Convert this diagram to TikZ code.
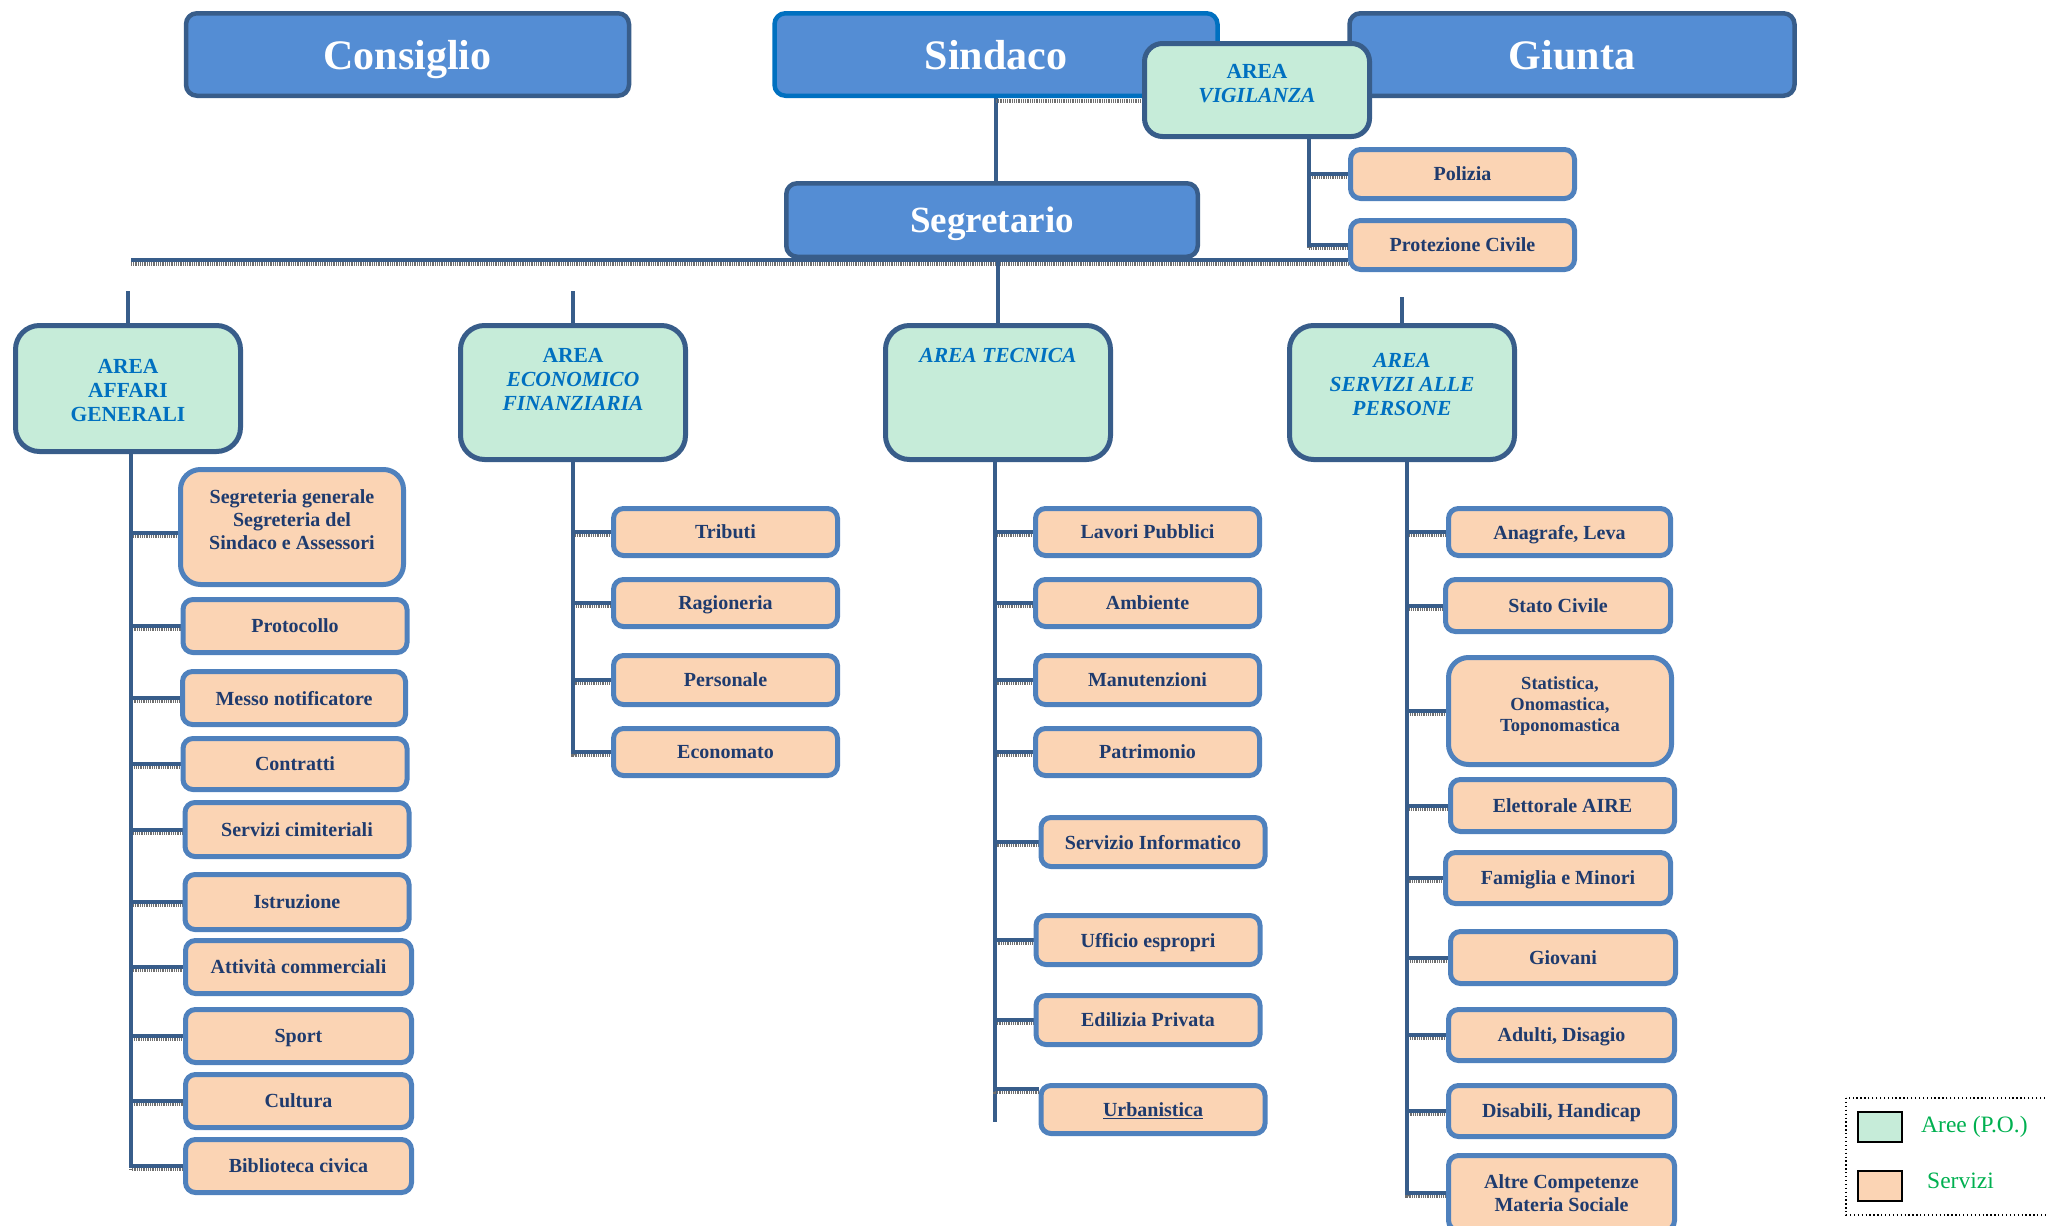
\documentclass[tikz,border=0pt]{standalone}
\usepackage{fontspec}
\setmainfont{Liberation Serif}
\usetikzlibrary{backgrounds}
\definecolor{topfill}{HTML}{548DD4}
\definecolor{navy}{HTML}{385D8A}
\definecolor{sindborder}{HTML}{0070C0}
\definecolor{areafill}{HTML}{C6ECD9}
\definecolor{areatext}{HTML}{0070C0}
\definecolor{svcfill}{HTML}{FBD4B4}
\definecolor{svcborder}{HTML}{4F81BD}
\definecolor{svctext}{HTML}{1F3B6E}
\definecolor{legtext}{HTML}{00B050}
\definecolor{texgray}{HTML}{6F6F6F}
\newcommand\mybranch[2]{%
  \draw[texline, transform canvas={yshift=-3.5pt}] (#1) |- (#2);
  \draw[conn] (#1) |- (#2);}
\begin{document}
\begin{tikzpicture}[x=1pt,y=-1pt,
  topbox/.style={draw=navy, fill=topfill, line width=4.5pt, rounded corners=11pt,
    minimum width=443pt, minimum height=82.5pt, inner sep=0pt, text=white, text depth=0pt,
    font=\fontsize{42}{48}\selectfont\bfseries},
  areabox/.style={draw=navy, fill=areafill, line width=5pt, rounded corners=24pt,
    minimum width=225pt, minimum height=134pt, inner sep=0pt, align=center,
    text=areatext, font=\fontsize{21.5}{24}\selectfont\bfseries},
  areatxt/.style={align=center, text=areatext, inner sep=0pt,
    font=\fontsize{21.5}{24}\selectfont\bfseries},
  svc/.style={draw=svcborder, fill=svcfill, line width=5pt, rounded corners=10pt,
    minimum width=224pt, minimum height=49pt, inner sep=0pt, align=center, text depth=0pt,
    text=svctext, font=\fontsize{20}{23}\selectfont\bfseries},
  svctxt/.style={align=center, text=svctext, inner sep=0pt,
    font=\fontsize{20}{23}\selectfont\bfseries},
  conn/.style={draw=navy, line width=4pt},
  texline/.style={draw=texgray, line width=3.5pt, dash pattern=on 0.9pt off 0.9pt},
  legbox/.style={draw=black, line width=2pt, minimum width=44pt, minimum height=30pt, inner sep=0pt},
  legtxt/.style={anchor=base west, text=legtext, inner sep=0pt, font=\fontsize{23.5}{28}\selectfont}
]
\useasboundingbox (0,0) rectangle (2046,1226);
\clip (0,0) rectangle (2046,1226);

% top level
\node[topbox] (consiglio) at (407.5,54.5) {Consiglio};
\node[topbox, draw=sindborder] (sindaco) at (996,54.5) {Sindaco};
\node[topbox, minimum width=445pt] (giunta) at (1572,54.5) {Giunta};
\node[topbox, minimum width=411.5pt, minimum height=73.5pt,
      font=\fontsize{37}{42}\selectfont\bfseries] (segretario) at (992,220) {Segretario};

% area vigilanza
\node[areabox, minimum height=93pt, rounded corners=18pt] (vig) at (1257,90) {};
\node[areatxt] (vigt) at (1257,84) {AREA\\\textit{VIGILANZA}};
\node[svc] (polizia) at (1462.5,174) {Polizia};
\node[svc] (protezione) at (1462.5,245) {Protezione Civile};

% areas
\node[areabox, minimum height=126pt] (affari) at (128,388.5) {};
\node[areatxt] (affarit) at (128,391) {AREA\\AFFARI\\GENERALI};
\node[areabox] (econarea) at (573,392.5) {};
\node[areatxt] (econt) at (573,379.5) {AREA\\\textit{ECONOMICO}\\\textit{FINANZIARIA}};
\node[areabox] (tecn) at (998,392.5) {};
\node[areatxt] (tecnt) at (998,355) {\textit{AREA TECNICA}};
\node[areabox] (persarea) at (1402,392.5) {};
\node[areatxt] (perst) at (1402,385) {\textit{AREA}\\\textit{SERVIZI ALLE}\\\textit{PERSONE}};

% services: affari generali
\node[svc, minimum width=223pt, minimum height=115pt, rounded corners=20pt] (seg) at (292,527) {};
\node[svctxt] (segt) at (292,520) {Segreteria generale\\Segreteria del\\Sindaco e Assessori};
\node[svc, minimum height=53pt] (prot) at (295,626) {Protocollo};
\node[svc, minimum width=223pt, minimum height=53pt] (messo) at (294,698) {Messo notificatore};
\node[svc, minimum height=51pt] (contr) at (295,764) {Contratti};
\node[svc, minimum height=54pt] (cimit) at (297,829.5) {Servizi cimiteriali};
\node[svc, minimum height=55pt] (istr) at (297,902) {Istruzione};
\node[svc, minimum width=226pt, minimum height=53pt] (attiv) at (298.5,967) {Attività commerciali};
\node[svc, minimum width=226pt, minimum height=53pt] (sport) at (298.5,1036) {Sport};
\node[svc, minimum width=226pt, minimum height=53pt] (cult) at (298.5,1101) {Cultura};
\node[svc, minimum width=226pt, minimum height=53pt] (bibl) at (298.5,1166) {Biblioteca civica};

% services: economico finanziaria
\node[svc, minimum height=47pt] (trib) at (725.5,532) {Tributi};
\node[svc, minimum height=47pt] (rag) at (725.5,603) {Ragioneria};
\node[svc, minimum height=49pt] (pers) at (725.5,680) {Personale};
\node[svc, minimum height=47pt] (econ) at (725.5,752) {Economato};

% services: tecnica
\node[svc, minimum height=47pt] (lav) at (1147.5,532) {Lavori Pubblici};
\node[svc, minimum height=47pt] (amb) at (1147.5,603) {Ambiente};
\node[svc, minimum height=49pt] (man) at (1147.5,680) {Manutenzioni};
\node[svc, minimum height=47pt] (patr) at (1147.5,752) {Patrimonio};
\node[svc, minimum height=49pt] (inf) at (1153,842) {Servizio Informatico};
\node[svc, minimum height=49pt] (esp) at (1148,940) {Ufficio espropri};
\node[svc, minimum height=49pt] (edil) at (1148,1020) {Edilizia Privata};
\node[svc, minimum height=48pt] (urb) at (1153,1109.5) {\underline{Urbanistica}};

% services: persone
\node[svc, minimum width=222pt, minimum height=47pt] (anag) at (1559.5,532) {Anagrafe, Leva};
\node[svc, minimum width=225pt, minimum height=52pt] (stato) at (1558,605.5) {Stato Civile};
\node[svc, minimum width=223pt, minimum height=107pt, rounded corners=20pt] (stat) at (1560,711) {};
\node[svctxt, font=\fontsize{18.5}{21}\selectfont\bfseries] (statt) at (1560,706) {Statistica,\\Onomastica,\\Toponomastica};
\node[svc, minimum height=52pt] (elett) at (1562.5,805.5) {Elettorale AIRE};
\node[svc, minimum width=225pt, minimum height=51pt] (fam) at (1558,878) {Famiglia e Minori};
\node[svc, minimum width=225pt, minimum height=52pt] (giov) at (1563,957.5) {Giovani};
\node[svc, minimum width=226pt, minimum height=51pt] (adul) at (1561.5,1035) {Adulti, Disagio};
\node[svc, minimum width=226pt, minimum height=51pt] (disab) at (1561.5,1111) {Disabili, Handicap};
\node[svc, minimum width=226pt, minimum height=75pt] (altre) at (1561.5,1193) {Altre Competenze\\Materia Sociale};

% legend
\draw[black, line width=1.3pt, dash pattern=on 1.3pt off 2.6pt] (1846,1098) rectangle (2080,1215);
\node[legbox, fill=areafill] (legA) at (1880,1126.5) {};
\node[legtxt] (legAt) at (1921,1132) {Aree (P.O.)};
\node[legbox, fill=svcfill] (legS) at (1880,1185.5) {};
\node[legtxt] (legSt) at (1927,1188) {Servizi};

% connectors
\begin{scope}[on background layer]
  \draw[conn] (sindaco.south) -- (sindaco.south |- segretario.north);
  \coordinate (sv) at (996,101);
  \draw[texline, line width=4pt] (sv) -- (sv -| vig.west);
  \mybranch{[xshift=52pt]vig.south}{polizia.west}
  \mybranch{[xshift=52pt]vig.south}{protezione.west}
  \coordinate (mainL) at (131,260);
  \draw[texline, transform canvas={yshift=-4pt}] (mainL) -- (mainL -| protezione.west);
  \draw[conn] (mainL) -- (mainL -| protezione.west);
  \draw[conn] (tecn.north |- segretario.south) -- (tecn.north);
  % stubs
  \draw[conn] ([yshift=32pt]affari.north) -- (affari.north);
  \draw[conn] ([yshift=32pt]econarea.north) -- (econarea.north);
  \draw[conn] ([yshift=26pt]persarea.north) -- (persarea.north);
  % affari generali
  \mybranch{[xshift=3pt]affari.south}{[yshift=-6pt]seg.west}
  \foreach \s in {prot,messo,contr,cimit,istr,attiv,sport,cult,bibl}
    {\mybranch{[xshift=3pt]affari.south}{\s.west}}
  % economico
  \foreach \s in {trib,rag,pers,econ}
    {\mybranch{econarea.south}{\s.west}}
  % tecnica
  \coordinate (tecEnd) at (995,1122);
  \draw[conn] ([xshift=-3pt]tecn.south) -- (tecEnd);
  \foreach \s in {lav,amb,man,patr,inf,esp,edil}
    {\mybranch{[xshift=-3pt]tecn.south}{\s.west}}
  \mybranch{[xshift=-3pt]tecn.south}{[yshift=21pt]urb.west}
  % persone
  \foreach \s in {anag,stato,stat,elett,fam,giov,adul,disab,altre}
    {\mybranch{[xshift=5pt]persarea.south}{\s.west}}
\end{scope}
\end{tikzpicture}
\end{document}
